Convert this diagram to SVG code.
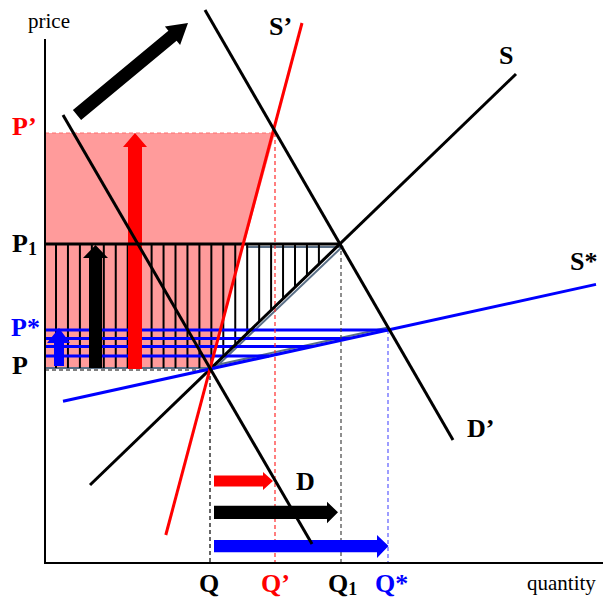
<svg xmlns="http://www.w3.org/2000/svg" width="603" height="600" viewBox="0 0 603 600">
<style>
.lbl{font-family:"Liberation Serif","Times New Roman",serif;font-weight:bold;font-size:26px}
.ax{font-family:"Liberation Serif","Times New Roman",serif;font-size:21px;fill:#000}
.sub{font-size:18px}
.hatch line{stroke:#000;stroke-width:2}
.blu line{stroke:#0000ff;stroke-width:3}
.curve{fill:none;stroke-width:3;stroke-linecap:butt}
.dash{fill:none;stroke-width:1.2;stroke-dasharray:4 3}
.shadow{stroke:#5a6f86;stroke-width:2;fill:none}
</style>
<rect width="603" height="600" fill="#fff"/>

<g id="surplus-area">
<polygon points="45,133 275,133 210,369 45,369" fill="#ff9b9b"/>
<line x1="45" y1="133" x2="275" y2="133" class="dash" stroke="#ff6f6f"/>
</g>

<g id="shadows">
<line x1="45" y1="368" x2="210" y2="368" class="shadow"/>
<line x1="246" y1="247" x2="340" y2="247" class="shadow"/>
<line x1="214" y1="369" x2="343" y2="246" class="shadow"/>
<line x1="212" y1="366" x2="388" y2="327.5" class="shadow"/>
</g>

<g id="hatch" class="hatch">
<line x1="56" y1="244" x2="56" y2="368"/>
<line x1="67.95" y1="244" x2="67.95" y2="368"/>
<line x1="79.9" y1="244" x2="79.9" y2="368"/>
<line x1="91.85" y1="244" x2="91.85" y2="368"/>
<line x1="103.8" y1="244" x2="103.8" y2="368"/>
<line x1="115.75" y1="244" x2="115.75" y2="368"/>
<line x1="127.7" y1="244" x2="127.7" y2="368"/>
<line x1="139.65" y1="244" x2="139.65" y2="368"/>
<line x1="151.6" y1="244" x2="151.6" y2="368"/>
<line x1="163.55" y1="244" x2="163.55" y2="368"/>
<line x1="175.5" y1="244" x2="175.5" y2="368"/>
<line x1="187.45" y1="244" x2="187.45" y2="368"/>
<line x1="199.4" y1="244" x2="199.4" y2="368"/>
<line x1="211.35" y1="244" x2="211.35" y2="367.7"/>
<line x1="223.3" y1="244" x2="223.3" y2="356.3"/>
<line x1="235.25" y1="244" x2="235.25" y2="344.9"/>
<line x1="247.2" y1="244" x2="247.2" y2="333.5"/>
<line x1="259.15" y1="244" x2="259.15" y2="322.1"/>
<line x1="271.1" y1="244" x2="271.1" y2="310.7"/>
<line x1="283.05" y1="244" x2="283.05" y2="299.3"/>
<line x1="295" y1="244" x2="295" y2="287.9"/>
<line x1="306.95" y1="244" x2="306.95" y2="276.5"/>
<line x1="318.9" y1="244" x2="318.9" y2="265.2"/>
</g>

<g id="blue-lines" class="blu">
<line x1="45" y1="330" x2="388" y2="330"/>
<line x1="45" y1="338.5" x2="349" y2="338.5"/>
<line x1="45" y1="346.5" x2="312" y2="346.5"/>
<line x1="45" y1="356" x2="269" y2="356"/>
</g>

<g id="dashed-guides">
<line x1="45" y1="370" x2="210" y2="370" class="dash" stroke="#000"/>
<line x1="210" y1="369" x2="210" y2="563" class="dash" stroke="#000"/>
<line x1="275" y1="133" x2="275" y2="563" class="dash" stroke="#ff2a2a"/>
<line x1="341" y1="244" x2="341" y2="563" class="dash" stroke="#444"/>
<line x1="388" y1="330" x2="388" y2="563" class="dash" stroke="#5c5cff"/>
</g>

<g id="arrows">
<polygon id="arrow-shift" points="81.1,120 176.6,40.7 180.1,45 188,23 164.9,26.4 168.4,30.7 72.9,110" fill="#000"/>
<polygon id="arrow-red-up" points="128,369 128,147 123,147 135,133 147,147 142,147 142,369" fill="#ff0000"/>
<polygon id="arrow-black-up" points="89,368 89,258 83,258 95.5,245 108,258 102,258 102,368" fill="#000"/>
<polygon id="arrow-blue-up" points="54,366 54,343 47,343 59,328 70,343 64,343 64,366" fill="#0000ff"/>
<polygon id="arrow-red-right" points="214,475.5 263,475.5 263,472 273,481 263,490 263,486.5 214,486.5" fill="#ff0000"/>
<polygon id="arrow-black-right" points="214,505.7 327,505.7 327,501.7 338,512.3 327,523.3 327,519 214,519" fill="#000"/>
<polygon id="arrow-blue-right" points="214,540 377,540 377,535 388.5,546 377,558 377,552.3 214,552.3" fill="#0000ff"/>
</g>

<g id="connectors">
<line x1="45" y1="244" x2="341" y2="244" class="curve" stroke="#000"/>
<line id="S" x1="90" y1="485" x2="516" y2="74" class="curve" stroke="#000"/>
<line id="S-star" x1="63" y1="401.2" x2="596" y2="284.4" class="curve" stroke="#0000ff"/>
<line id="S-prime" x1="302" y1="23" x2="165.8" y2="535" class="curve" stroke="#ff0000"/>
<line id="D-prime" x1="205" y1="10" x2="453" y2="440" class="curve" stroke="#000"/>
<line id="D" x1="63" y1="115" x2="312" y2="544" class="curve" stroke="#000"/>
</g>

<g id="axes">
<line x1="45" y1="39" x2="45" y2="564" stroke="#000" stroke-width="2"/>
<line x1="44" y1="563" x2="603" y2="563" stroke="#000" stroke-width="2"/>
<text x="28" y="28" class="ax">price</text>
<text x="527" y="590" class="ax">quantity</text>
</g>

<g id="labels">
<text x="12" y="135" class="lbl" fill="#ff0000">P’</text>
<text x="12" y="252" class="lbl" fill="#000">P<tspan class="sub" dy="3">1</tspan></text>
<text x="11" y="336" class="lbl" fill="#0000ff">P*</text>
<text x="12" y="374" class="lbl" fill="#000">P</text>
<text x="199" y="592" class="lbl" fill="#000">Q</text>
<text x="261" y="592" class="lbl" fill="#ff0000">Q’</text>
<text x="328" y="592" class="lbl" fill="#000">Q<tspan class="sub" dy="3">1</tspan></text>
<text x="375" y="592" class="lbl" fill="#0000ff">Q*</text>
<text x="269" y="35" class="lbl" fill="#000">S’</text>
<text x="499" y="64" class="lbl" fill="#000">S</text>
<text x="570" y="270" class="lbl" fill="#000">S*</text>
<text x="467" y="437" class="lbl" fill="#000">D’</text>
<text x="296" y="490" class="lbl" fill="#000">D</text>
</g>
</svg>
